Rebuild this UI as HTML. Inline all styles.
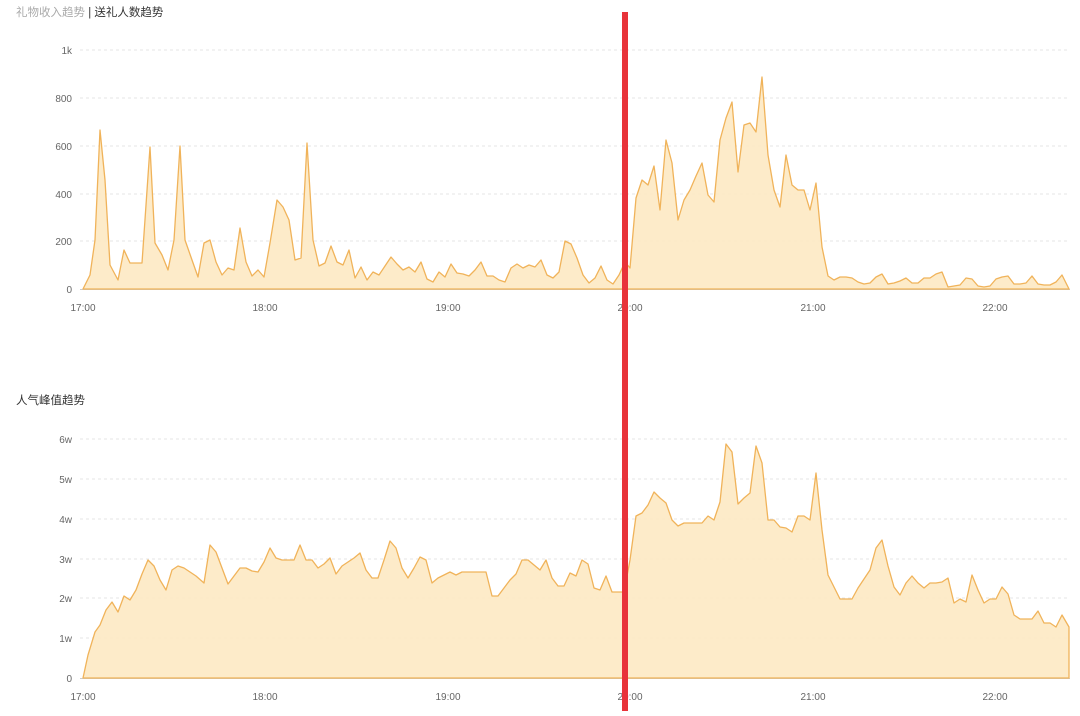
<!DOCTYPE html>
<html><head><meta charset="utf-8"><style>
html,body{margin:0;padding:0;background:#fff;}
svg text{font-family:"Liberation Sans","Noto Sans CJK SC",sans-serif;}
</style></head><body>
<svg width="1080" height="711" viewBox="0 0 1080 711" xmlns="http://www.w3.org/2000/svg">
<text x="16" y="16" font-size="11.5" fill="#aaa">礼物收入趋势 <tspan fill="#333">| 送礼人数趋势</tspan></text>
<g stroke="#e6e6e6" stroke-dasharray="3,3" stroke-width="1">
<line x1="80" x2="1070" y1="50" y2="50"/><line x1="80" x2="1070" y1="98" y2="98"/><line x1="80" x2="1070" y1="146" y2="146"/><line x1="80" x2="1070" y1="194" y2="194"/><line x1="80" x2="1070" y1="241" y2="241"/>
<line x1="80" x2="1070" y1="439" y2="439"/><line x1="80" x2="1070" y1="479" y2="479"/><line x1="80" x2="1070" y1="519" y2="519"/><line x1="80" x2="1070" y1="559" y2="559"/><line x1="80" x2="1070" y1="598" y2="598"/><line x1="80" x2="1070" y1="638" y2="638"/>
</g>
<line x1="80" x2="1070" y1="289.5" y2="289.5" stroke="#ccc"/>
<line x1="80" x2="1070" y1="678.5" y2="678.5" stroke="#ccc"/>
<g font-size="10" fill="#666" text-anchor="end">
<text x="72" y="54">1k</text><text x="72" y="102">800</text><text x="72" y="150">600</text><text x="72" y="198">400</text><text x="72" y="245">200</text><text x="72" y="293">0</text>
<text x="72" y="443">6w</text><text x="72" y="483">5w</text><text x="72" y="523">4w</text><text x="72" y="563">3w</text><text x="72" y="602">2w</text><text x="72" y="642">1w</text><text x="72" y="682">0</text>
</g>
<g font-size="10" fill="#666" text-anchor="middle">
<text x="83" y="311">17:00</text><text x="265" y="311">18:00</text><text x="448" y="311">19:00</text><text x="630" y="311">20:00</text><text x="813" y="311">21:00</text><text x="995" y="311">22:00</text>
<text x="83" y="700">17:00</text><text x="265" y="700">18:00</text><text x="448" y="700">19:00</text><text x="630" y="700">20:00</text><text x="813" y="700">21:00</text><text x="995" y="700">22:00</text>
</g>
<text x="16" y="404" font-size="11.5" fill="#333">人气峰值趋势</text>
<polygon fill="#fde9c3" fill-opacity="0.9" stroke="#f0b35a" stroke-width="1.3" stroke-linejoin="round" points="83,289 90,275 95,240 100,130 105,180 110,265 118,280 124,250 130,263 142,263 150,147 155,243 162,255 168,270 174,240 180,146 185,240 192,260 198,277 204,243 210,240 216,262 222,275 228,268 234,270 240,228 246,262 252,276 258,270 264,277 270,243 277,200 283,207 289,220 295,260 301,258 307,143 313,240 319,266 325,263 331,246 337,262 343,265 349,250 355,278 361,267 367,280 373,272 379,275 385,266 391,257 397,264 403,270 409,267 415,272 421,262 427,279 433,282 439,272 445,277 451,264 457,273 463,274 469,276 475,270 481,262 487,276 493,276 499,280 505,282 511,268 517,264 523,268 529,265 535,267 541,260 547,275 553,278 559,272 565,241 571,244 577,258 583,275 589,283 595,278 601,266 607,280 613,284 619,275 625,262 630,268 636,198 642,180 648,185 654,166 660,210 666,140 672,163 678,220 684,200 690,190 696,176 702,163 708,195 714,202 720,140 726,118 732,102 738,172 744,125 750,123 756,132 762,77 768,155 774,190 780,207 786,155 792,185 798,190 804,190 810,210 816,183 822,247 828,276 834,280 840,277 846,277 852,278 858,282 864,284 870,283 876,277 882,274 888,284 894,283 900,281 906,278 912,283 918,283 924,278 930,278 936,274 942,272 948,287 954,286 960,285 966,278 972,279 978,286 984,287 990,286 996,279 1002,277 1008,276 1014,284 1020,284 1026,283 1032,276 1038,284 1044,285 1050,285 1056,282 1062,275 1069,289"/>
<polygon fill="#fde9c3" fill-opacity="0.9" stroke="#f0b35a" stroke-width="1.3" stroke-linejoin="round" points="83,678 88,655 95,632 100,625 106,610 112,602 118,612 124,596 130,600 136,590 142,574 148,560 154,566 160,580 166,590 172,570 178,566 184,568 190,572 196,576 204,583 210,545 216,552 222,568 228,584 234,576 240,568 246,568 252,571 258,572 264,562 270,548 276,558 282,560 288,560 294,560 300,545 306,560 312,560 318,568 324,564 330,558 336,574 342,566 348,562 354,558 360,553 366,570 372,578 378,578 384,560 390,541 396,548 402,568 408,578 414,568 420,557 426,560 432,583 438,578 444,575 450,572 456,575 462,572 468,572 474,572 480,572 486,572 492,596 498,596 504,588 510,580 516,574 522,560 528,560 534,565 540,570 546,560 552,578 558,586 564,586 570,573 576,576 582,560 588,564 594,588 600,590 606,576 612,592 618,592 624,592 630,560 636,516 642,513 648,505 654,492 660,498 666,503 672,520 678,526 684,523 690,523 696,523 702,523 708,516 714,520 720,502 726,444 732,452 738,504 744,498 750,493 756,446 762,463 768,520 774,520 780,527 786,528 792,532 798,516 804,516 810,520 816,473 822,530 828,575 834,587 840,599 846,599 852,599 858,588 864,579 870,570 876,548 882,540 888,566 894,587 900,595 906,583 912,576 918,583 924,588 930,583 936,583 942,582 948,578 954,603 960,599 966,602 972,575 978,590 984,603 990,599 996,599 1002,587 1008,594 1014,615 1020,619 1026,619 1032,619 1038,611 1044,623 1050,623 1056,627 1062,615 1069,627 1069,678"/>
<rect x="622" y="12" width="6" height="699" fill="#e8333a"/>
</svg>
</body></html>
